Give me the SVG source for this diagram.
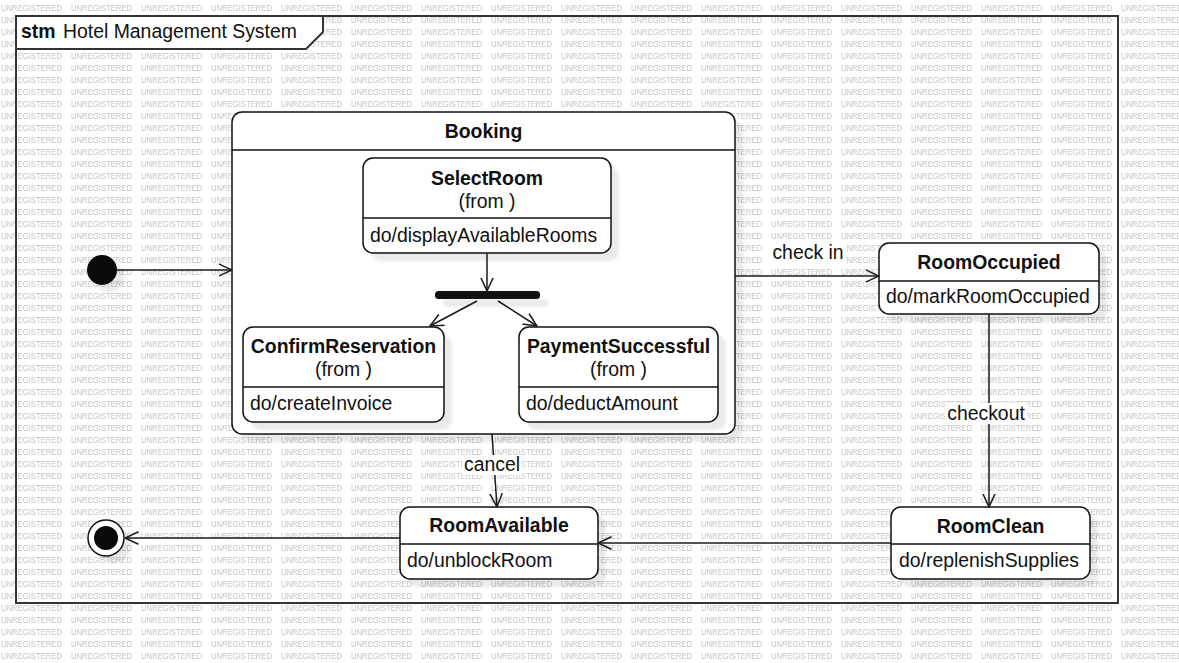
<svg xmlns="http://www.w3.org/2000/svg" width="1179" height="663" viewBox="0 0 1179 663">
<defs>
<pattern id="wm" x="0" y="0" width="70" height="12" patternUnits="userSpaceOnUse">
<text x="1" y="10.5" class="wm" textLength="61" lengthAdjust="spacingAndGlyphs">UNREGISTERED</text>
</pattern>
<marker id="arr" viewBox="0 0 14 14" refX="13.5" refY="7" markerWidth="14" markerHeight="14" markerUnits="userSpaceOnUse" orient="auto">
<path d="M0,0.8 L13.5,7 L0,13.2" fill="none" stroke="#1a1a1a" stroke-width="1.5"/>
</marker>
<filter id="blur" x="-20%" y="-20%" width="140%" height="140%"><feGaussianBlur stdDeviation="1.5"/></filter>
</defs>
<style>
.wm{font-family:"Liberation Sans",Arial,sans-serif;font-size:8.5px;fill:#c4c4c4}
.frame{fill:none;stroke:#333;stroke-width:2}
.hdr{fill:#fff;stroke:#333;stroke-width:2}
.node{fill:#fff;stroke:#111;stroke-width:1.5}
.sh{fill:#000;opacity:0.08;filter:url(#blur)}
.div{stroke:#111;stroke-width:1.5}
.t{font-family:"Liberation Sans",Arial,sans-serif;font-size:19.4px;fill:#111}
.b{font-weight:bold}
.c{text-anchor:middle}
.edge{fill:none;stroke:#1a1a1a;stroke-width:1.5;marker-end:url(#arr)}
.lbg{fill:#fff}
</style>
<rect x="0" y="0" width="1179" height="663" fill="#fff"/>
<rect x="0" y="0" width="1179" height="663" fill="url(#wm)"/>

<g id="frame">
<rect class="frame" x="16" y="16" width="1102" height="587"/>
<path class="hdr" d="M16,16 L323,16 L323,32 L306,49 L16,49 Z"/>
<text class="t b" x="21" y="38">stm</text>
<text class="t" x="63" y="38">Hotel Management System</text>
</g>

<g id="booking">
<rect class="sh" x="240" y="120" width="503" height="322" rx="10"/>
<rect class="node" x="232" y="112" width="503" height="322" rx="10"/>
<line class="div" x1="232" y1="150" x2="735" y2="150"/>
<text class="t b c" x="483.5" y="138">Booking</text>
</g>

<g id="selectroom">
<rect class="sh" x="371" y="166" width="248" height="95" rx="10"/>
<rect class="node" x="363" y="158" width="248" height="95" rx="10"/>
<line class="div" x1="363" y1="218" x2="611" y2="218"/>
<text class="t b c" x="487" y="185">SelectRoom</text>
<text class="t c" x="487" y="208">(from )</text>
<text class="t" x="370" y="242">do/displayAvailableRooms</text>
</g>

<g id="fork">
<rect class="sh" x="443" y="299" width="105" height="8" rx="3"/>
<rect x="435" y="291" width="105" height="8" rx="3.5" fill="#111"/>
</g>

<g id="confirmreservation">
<rect class="sh" x="251" y="335" width="201" height="95" rx="10"/>
<rect class="node" x="243" y="327" width="201" height="95" rx="10"/>
<line class="div" x1="243" y1="387" x2="444" y2="387"/>
<text class="t b c" x="343.5" y="353">ConfirmReservation</text>
<text class="t c" x="343.5" y="376">(from )</text>
<text class="t" x="250" y="410">do/createInvoice</text>
</g>

<g id="paymentsuccessful">
<rect class="sh" x="527" y="335" width="199" height="95" rx="10"/>
<rect class="node" x="519" y="327" width="199" height="95" rx="10"/>
<line class="div" x1="519" y1="387" x2="718" y2="387"/>
<text class="t b c" x="618.5" y="353">PaymentSuccessful</text>
<text class="t c" x="618.5" y="376">(from )</text>
<text class="t" x="526" y="410">do/deductAmount</text>
</g>

<g id="roomoccupied">
<rect class="sh" x="887" y="251" width="220" height="71" rx="10"/>
<rect class="node" x="879" y="243" width="220" height="71" rx="10"/>
<line class="div" x1="879" y1="281" x2="1099" y2="281"/>
<text class="t b c" x="989" y="269">RoomOccupied</text>
<text class="t" x="886" y="303">do/markRoomOccupied</text>
</g>

<g id="roomclean">
<rect class="sh" x="899" y="515" width="199" height="72" rx="10"/>
<rect class="node" x="891" y="507" width="199" height="72" rx="10"/>
<line class="div" x1="891" y1="544" x2="1090" y2="544"/>
<text class="t b c" x="990.5" y="533">RoomClean</text>
<text class="t" x="899" y="567">do/replenishSupplies</text>
</g>

<g id="roomavailable">
<rect class="sh" x="408" y="515" width="198" height="72" rx="10"/>
<rect class="node" x="400" y="507" width="198" height="72" rx="10"/>
<line class="div" x1="400" y1="544" x2="598" y2="544"/>
<text class="t b c" x="499" y="532">RoomAvailable</text>
<text class="t" x="407" y="567">do/unblockRoom</text>
</g>

<g id="initial">
<circle class="sh" cx="109" cy="277" r="15"/>
<circle cx="102" cy="270" r="15" fill="#0a0a0a"/>
</g>

<g id="final">
<circle class="sh" cx="113" cy="545" r="18"/>
<circle cx="106" cy="538" r="18" fill="#fff" stroke="#111" stroke-width="1.5"/>
<circle cx="106" cy="538" r="12" fill="#0a0a0a"/>
</g>

<g id="connectors">
<path class="edge" d="M117,270 L232,270"/>
<path class="edge" d="M487,253 L487,291"/>
<path class="edge" d="M477,301 L430,326"/>
<path class="edge" d="M498,301 L537,326"/>
<path class="edge" d="M735,276 L879,276"/>
<path class="edge" d="M989,314 L989,507"/>
<path class="edge" d="M492,434 L497,507"/>
<path class="edge" d="M891,543 L598,543"/>
<path class="edge" d="M400,538 L125,538"/>
<rect class="lbg" x="770" y="242" width="76" height="21"/>
<text class="t c" x="808" y="259">check in</text>
<rect class="lbg" x="945" y="403" width="82" height="21"/>
<text class="t c" x="986" y="420">checkout</text>
<rect class="lbg" x="462" y="455" width="60" height="20"/>
<text class="t c" x="492" y="471">cancel</text>
</g>
</svg>
